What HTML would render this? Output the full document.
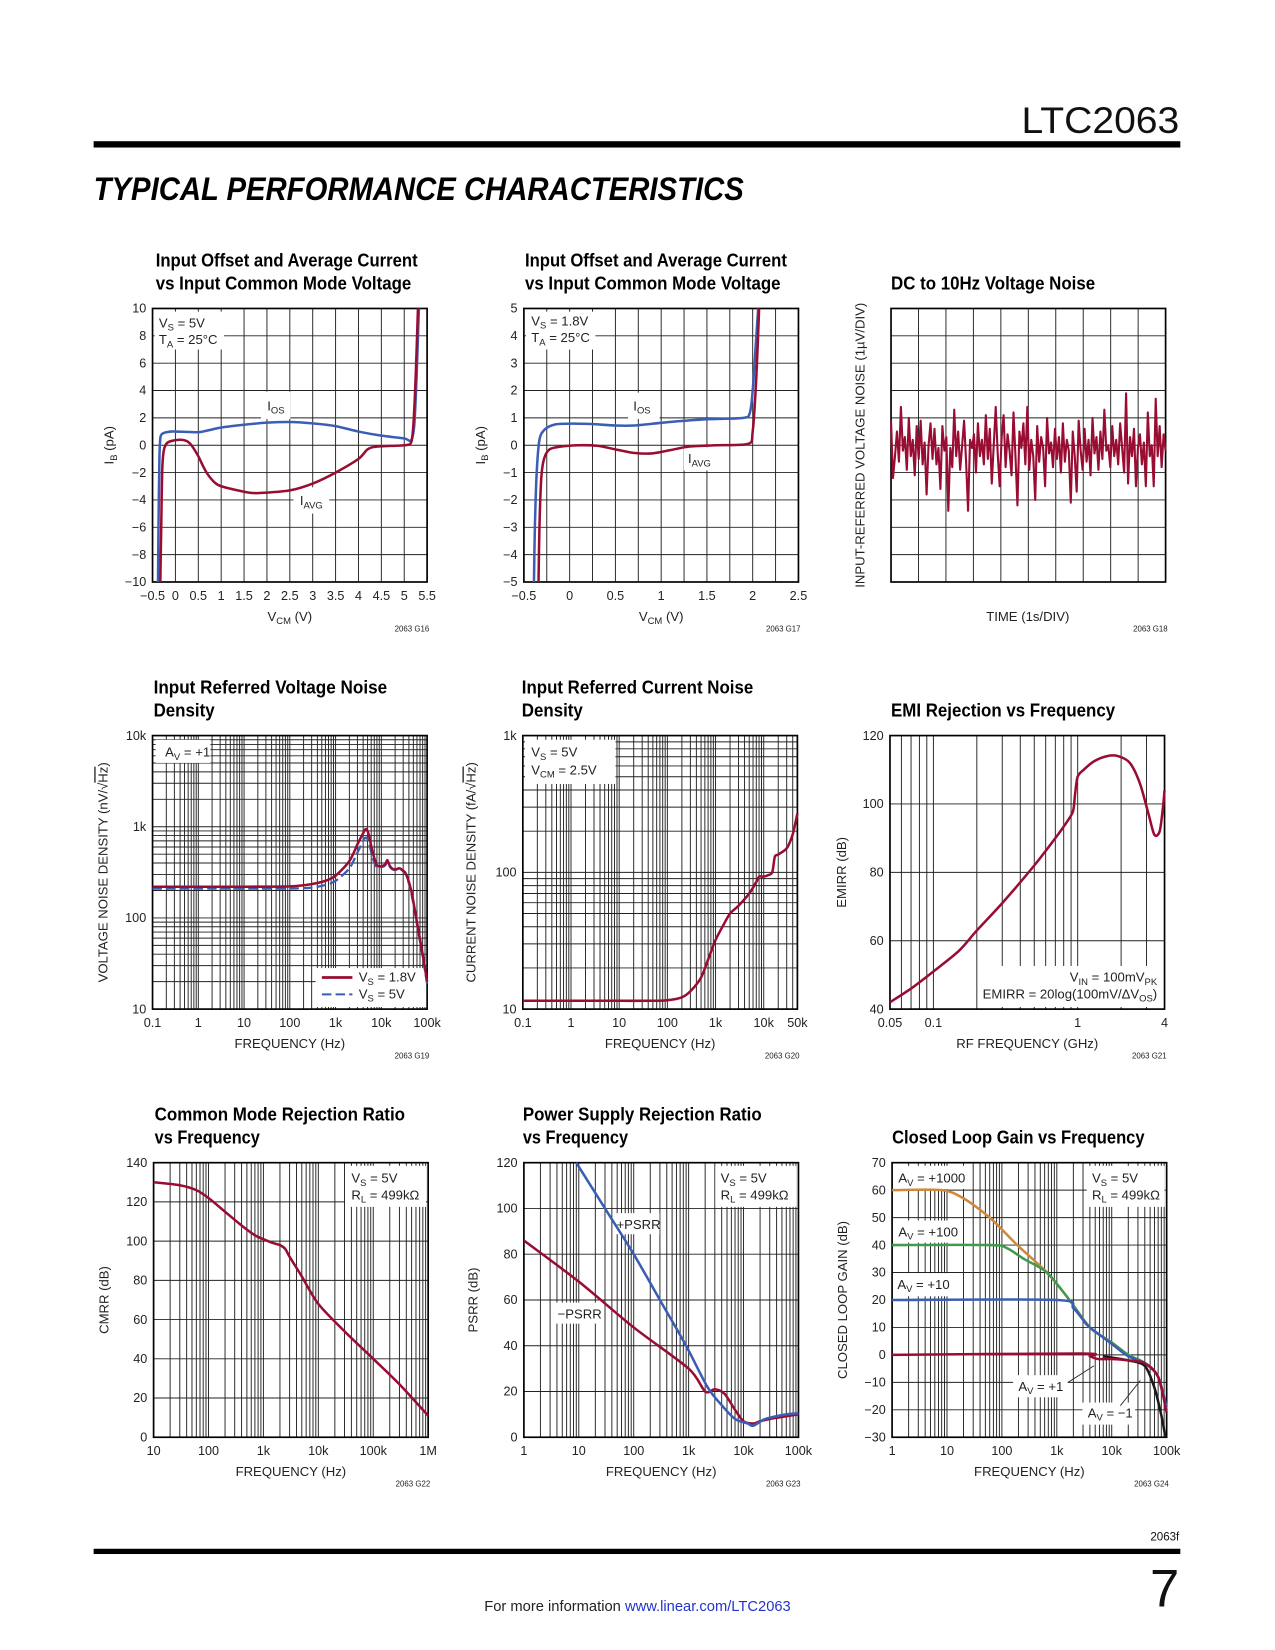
<!DOCTYPE html>
<html><head><meta charset="utf-8">
<style>
html,body{margin:0;padding:0;background:#fff;}
svg{display:block;font-family:"Liberation Sans",sans-serif;}
</style></head>
<body>
<svg id="page" xmlns="http://www.w3.org/2000/svg" width="1275" height="1650" viewBox="0 0 1212 1568">
<rect x="0" y="0" width="1212" height="1568" fill="#fff"/>
<text x="1121" y="126" text-anchor="end" font-size="35" fill="#111" textLength="150" lengthAdjust="spacingAndGlyphs">LTC2063</text>
<rect x="89" y="134" width="1033" height="6" fill="#000"/>
<text x="89" y="190" font-size="31" font-weight="bold" font-style="italic" fill="#000" textLength="618" lengthAdjust="spacingAndGlyphs">TYPICAL PERFORMANCE CHARACTERISTICS</text>
<rect x="89" y="1472" width="1033" height="5" fill="#000"/>
<text x="1121" y="1464" text-anchor="end" font-size="11" fill="#111">2063f</text>
<text x="1121" y="1527" text-anchor="end" font-size="50" fill="#111">7</text>
<text x="606" y="1531" text-anchor="middle" font-size="14" fill="#222">For more information <tspan fill="#2233cc">www.linear.com/LTC2063</tspan></text>
<g id="charts"></g>
</svg>
<script>
// ---------- DATA ----------
const c1_vcm_ios=[-0.38,-0.37,-0.35,-0.33,-0.3,-0.25,-0.2,-0.1,0,0.3,0.5,0.6,0.8,1,1.5,2,2.5,3,3.5,4,4.5,5,5.15,5.22,5.27,5.32];
const c1_ios=[-10,-6,-1,0.5,0.8,0.9,0.95,1.0,1.0,0.97,0.95,1.0,1.15,1.3,1.5,1.65,1.7,1.6,1.4,1.0,0.7,0.5,0.35,1.5,5,10];
const c1_vcm_avg=[-0.33,-0.31,-0.29,-0.26,-0.2,-0.1,0.1,0.25,0.35,0.5,0.6,0.7,0.85,1,1.5,1.8,2.5,3,3.5,4,4.2,4.4,5,5.15,5.2,5.25,5.3];
const c1_iavg=[-10,-6,-2,-0.5,0.1,0.3,0.4,0.3,0,-0.8,-1.5,-2.1,-2.7,-3.0,-3.4,-3.5,-3.3,-2.8,-2.0,-1.0,-0.3,-0.1,0,0.2,1.5,5,10];
const c2_vcm_ios=[-0.39,-0.38,-0.36,-0.33,-0.28,-0.2,-0.1,0.2,0.5,0.7,1.0,1.2,1.5,1.9,1.97,2.0,2.03,2.06];
const c2_ios=[-5,-3,-1,0.2,0.55,0.72,0.78,0.78,0.72,0.72,0.82,0.88,0.95,1.0,1.2,2.0,3.5,5];
const c2_vcm_avg=[-0.34,-0.33,-0.31,-0.28,-0.22,-0.1,0.1,0.3,0.5,0.7,0.9,1.1,1.3,1.6,1.95,2.0,2.04,2.07];
const c2_iavg=[-5,-3,-1.2,-0.5,-0.15,-0.05,0,-0.02,-0.15,-0.28,-0.3,-0.18,-0.05,0,0.05,0.5,2.5,5];
const c3_noise=[5.9,3.8,4.6,5.5,4.4,6.4,4.8,5.3,4.1,6.0,4.6,5.2,3.9,5.7,4.5,5.9,4.3,5.1,3.2,5.0,5.8,4.5,5.6,4.3,4.9,3.4,5.7,4.8,5.3,2.6,4.9,4.2,6.3,4.6,5.5,4.1,5.0,5.9,4.4,2.6,5.2,4.9,5.4,4.0,5.8,4.6,5.2,4.3,6.1,4.5,5.6,3.6,5.0,6.4,4.7,3.5,5.3,6.1,4.2,5.4,4.8,3.9,6.2,4.6,2.8,5.5,4.9,5.8,4.3,6.4,4.1,5.2,4.6,3.0,5.7,4.4,5.3,4.9,3.5,6.0,4.7,5.1,4.2,5.6,4.5,5.3,4.0,5.8,4.4,5.2,4.8,2.9,5.5,4.6,3.3,5.9,4.8,4.1,5.6,4.4,5.2,3.9,6.0,4.7,5.3,4.1,5.5,4.5,6.3,4.8,5.0,4.2,5.7,4.6,5.2,4.3,5.8,4.9,4.0,6.9,3.6,5.3,4.6,5.6,3.5,4.9,5.4,4.3,5.1,3.5,6.2,4.6,5.0,3.5,6.7,4.6,5.7,4.2,5.4,4.8];
const c4_freq=[0.1,1,10,100,300,600,1000,2000,3000,4000,4500,5000,5500,6500,8000,10000,12000,13500,15000,17000,20000,25000,30000,35000,45000,60000,80000,100000];
const c4_vs18=[220,220,220,222,235,255,290,420,640,850,940,900,760,520,380,370,385,430,380,350,340,350,330,300,200,90,40,20];
const c4_vs5=[210,210,210,210,215,230,255,350,520,700,760,730,640,450,360,360,375,410,370,345,335,345,325,295,190,85,38,19];
const c5_freq=[0.1,1,10,50,100,200,300,500,700,1000,1500,2000,3000,5000,7000,8000,10000,12000,15000,17000,20000,30000,40000,50000];
const c5_noise=[11.5,11.5,11.5,11.5,11.6,12.2,13.5,17,23,32,42,50,57,70,85,93,93,95,100,130,135,150,190,270];
const c6_freq=[0.05,0.07,0.1,0.15,0.2,0.3,0.5,0.7,0.85,0.93,0.96,1.0,1.1,1.3,1.6,1.9,2.3,2.7,3.1,3.4,3.7,3.9,4.0];
const c6_emirr=[42,46,51,57,63,71,82,90,95,98,103,108,110,112.5,114,114,112,106,97,91,92,99,104];
const c7_freq=[10,30,60,100,200,400,700,1000,1500,2000,2500,3000,5000,10000,30000,100000,300000,1000000];
const c7_cmrr=[130,128.5,126,122,115,108,103,101,99,98,96,92,82,68,54,40,27,11];
const c8_freq_neg=[1,10,100,1000,2000,3000,4500,7000,10000,15000,20000,30000,100000];
const c8_neg=[86,68,48,30,20,21,19,12,7,6,7,8,10];
const c8_freq_pos=[9,30,100,300,900,2200,4000,7000,12000,15000,25000,60000,100000];
const c8_pos=[120,100,80,60,40,22,14,8,6,5,8,10,10.5];
const c9_f1000=[1,8,20,60,190,660,1700,4000,10000,20000,40000,70000,100000];
const c9_g1000=[60,60,57,50,40,30,20,10,4.5,0,-3,-8,-20];
const c9_f100=[1,60,120,250,660,1700,4000,10000,20000,40000,70000,100000];
const c9_g100=[40,40,39,35,30,20,10,4.5,0,-3,-8,-20];
const c9_f10=[1,1000,2000,3200,4000,10000,20000,40000,70000,100000];
const c9_g10=[20,20,17,12,10,4,-0.5,-3,-8,-19];
const c9_f1=[1,2800,4000,5600,10000,20000,40000,70000,100000];
const c9_g1=[0,0.5,-0.5,-1.5,-1.5,-2,-3,-8,-21];
const c9_fm1=[7000,10000,20000,40000,60000,80000,95000];
const c9_gm1=[-0.5,-1,-2,-4,-12,-22,-30];

// tick labels
const t1_x=['−0.5','0','0.5','1','1.5','2','2.5','3','3.5','4','4.5','5','5.5'];
const t1_y=['10','8','6','4','2','0','−2','−4','−6','−8','−10'];
const t2_x=['−0.5','0','0.5','1','1.5','2','2.5'];
const t2_y=['5','4','3','2','1','0','−1','−2','−3','−4','−5'];
const tf_x4=['0.1','1','10','100','1k','10k','100k'];
const tf_y4=['10k','1k','100','10'];
const tf_x5=['0.1','1','10','100','1k','10k','50k'];
const tf_y5=['1k','100','10'];
const tf_x6=['0.05','0.1','1','4'];
const tf_y6=['120','100','80','60','40'];
const tf_x7=['10','100','1k','10k','100k','1M'];
const tf_y7=['140','120','100','80','60','40','20','0'];
const tf_x8=['1','10','100','1k','10k','100k'];
const tf_y8=['120','100','80','60','40','20','0'];
const tf_y9=['70','60','50','40','30','20','10','0','−10','−20','−30'];

// ---------- HELPERS ----------
const NS='http://www.w3.org/2000/svg';
const root=document.getElementById('charts');
const RED='#9a0d33',BLUE='#3b5eb4',ORANGE='#d0883c',GREEN='#3f9a4e',BLACK='#1a1a1a',GRID='#222';
function mk(tag,parent){const e=document.createElementNS(NS,tag);(parent||root).appendChild(e);return e;}
function lin(d0,d1,r0,r1){return v=>r0+(v-d0)/(d1-d0)*(r1-r0);}
function lg(d0,d1,r0,r1){const a=Math.log10(d0),b=Math.log10(d1);return v=>r0+(Math.log10(v)-a)/(b-a)*(r1-r0);}
function parseV(s){let m=1;if(s.endsWith('k')){m=1e3;s=s.slice(0,-1);}if(s.endsWith('M')){m=1e6;s=s.slice(0,-1);}return parseFloat(s.replace('−','-'))*m;}
function line(g,x1,y1,x2,y2,w,c,name){const l=mk('line',g);l.setAttribute('x1',x1);l.setAttribute('y1',y1);l.setAttribute('x2',x2);l.setAttribute('y2',y2);l.setAttribute('stroke',c||GRID);l.setAttribute('stroke-width',w||0.9);


return l;}
function txt(g,x,y,html,size,anchor,name,extra){const t=mk('text',g);t.setAttribute('x',x);t.setAttribute('y',y);t.setAttribute('font-size',size||12);t.setAttribute('fill','#222');if(anchor)t.setAttribute('text-anchor',anchor);if(extra)for(const k in extra)t.setAttribute(k,extra[k]);t.innerHTML=html;


return t;}
function box(g,x,y,w,h,name){const r=mk('rect',g);r.setAttribute('x',x);r.setAttribute('y',y);r.setAttribute('width',w);r.setAttribute('height',h);r.setAttribute('fill','#fff');


return r;}
function sub(a,b,c){return a+'<tspan dy="3" font-size="0.72em">'+b+'</tspan><tspan dy="-3">'+(c||'')+'</tspan>';}
function series(g,sx,sy,xs,ys,color,name,dash,w,sharp){
  const P=xs.map((x,i)=>[sx(x),sy(ys[i])]);
  let d='M'+P[0][0].toFixed(2)+','+P[0][1].toFixed(2);
  for(let i=0;i<P.length-1;i++){
    if(sharp){d+='L'+P[i+1][0].toFixed(2)+','+P[i+1][1].toFixed(2);continue;}
    const p0=P[i-1]||P[i],p1=P[i],p2=P[i+1],p3=P[i+2]||P[i+1],k=1/7;
    const c1=[p1[0]+(p2[0]-p0[0])*k,p1[1]+(p2[1]-p0[1])*k],c2=[p2[0]-(p3[0]-p1[0])*k,p2[1]-(p3[1]-p1[1])*k];
    d+='C'+c1[0].toFixed(2)+','+c1[1].toFixed(2)+' '+c2[0].toFixed(2)+','+c2[1].toFixed(2)+' '+p2[0].toFixed(2)+','+p2[1].toFixed(2);
  }
  const p=mk('path',g);p.setAttribute('d',d);p.setAttribute('fill','none');p.setAttribute('stroke',color);p.setAttribute('stroke-width',w||2.4);p.setAttribute('stroke-linejoin','round');if(dash)p.setAttribute('stroke-dasharray',dash);
  
  
  return p;}
function logGrid(g,d0,d1){const out=[];for(let e=Math.floor(Math.log10(d0))-1;e<=Math.ceil(Math.log10(d1));e++){for(let m=1;m<=9;m++){const v=m*Math.pow(10,e);if(v>=d0*0.999&&v<=d1*1.001)out.push(v);}}return out;}

function chart(o){
  const g=mk('g');
  
  
  const sx=o.xlog?lg(o.xd[0],o.xd[1],o.x0,o.x1):lin(o.xd[0],o.xd[1],o.x0,o.x1);
  const sy=o.ylog?lg(o.yd[0],o.yd[1],o.y1,o.y0):lin(o.yd[0],o.yd[1],o.y1,o.y0);
  const gx=o.xlog?logGrid(g,o.xd[0],o.xd[1]):o.xgrid, gy=o.ylog?logGrid(g,o.yd[0],o.yd[1]):o.ygrid;
  gx.forEach(v=>line(g,sx(v),o.y0,sx(v),o.y1,0.9,GRID,'x-grid-line'));
  gy.forEach(v=>line(g,o.x0,sy(v),o.x1,sy(v),0.9,GRID,'y-grid-line'));
  const fr=mk('rect',g);fr.setAttribute('x',o.x0);fr.setAttribute('y',o.y0);fr.setAttribute('width',o.x1-o.x0);fr.setAttribute('height',o.y1-o.y0);fr.setAttribute('fill','none');fr.setAttribute('stroke','#000');fr.setAttribute('stroke-width',1.6);
  
  
  if(o.xt)o.xt.forEach(s=>txt(g,sx(parseV(s)),o.y1+17,s,12,'middle','x-tick-label'));
  if(o.yt)o.yt.forEach(s=>txt(g,o.x0-6,sy(parseV(s))+4,s,12,'end','y-tick-label'));
  o.title.forEach((s,i)=>txt(g,o.tx,o.ty+i*22,s[0],17.5,null,'chart-title',{'font-weight':'bold','textLength':s[1],'lengthAdjust':'spacingAndGlyphs','fill':'#000'}));
  if(o.xlabel)txt(g,(o.x0+o.x1)/2,o.y1+37,o.xlabel,12.5,'middle','x-axis-title');
  const yl=txt(g,o.ylx,(o.y0+o.y1)/2,o.ylabel,12.5,'middle','y-axis-title');yl.setAttribute('transform','rotate(-90 '+o.ylx+' '+((o.y0+o.y1)/2)+')');
  txt(g,o.x1+2,o.y1+47,o.fig,7.5,'end','figure-number');
  return {g,sx,sy};
}

// ---------- CHART 1 ----------
let C=chart({name:'chart-g16',x0:145,x1:406,y0:293,y1:553,xd:[-0.5,5.5],yd:[-10,10],
 xgrid:[-0.5,0,0.5,1,1.5,2,2.5,3,3.5,4,4.5,5,5.5],ygrid:[-10,-8,-6,-4,-2,0,2,4,6,8,10],xt:t1_x,yt:t1_y,
 title:[['Input Offset and Average Current',249],['vs Input Common Mode Voltage',243]],tx:148,ty:253,
 xlabel:sub('V','CM',' (V)'),ylabel:sub('I','B',' (pA)'),ylx:108,fig:'2063 G16'});
box(C.g,147,296,66,36,'conditions-box');
txt(C.g,151,311,sub('V','S',' = 5V'),12.5,null,'condition-vs');
txt(C.g,151,327,sub('T','A',' = 25°C'),12.5,null,'condition-ta');
box(C.g,248,372,28,26,'ios-label-box');
txt(C.g,254,390,sub('I','OS'),12.5,null,'ios-label');
box(C.g,279,463,34,25,'iavg-label-box');
txt(C.g,285,480,sub('I','AVG'),12.5,null,'iavg-label');
series(C.g,C.sx,C.sy,c1_vcm_ios,c1_ios,BLUE,'ios-curve');
series(C.g,C.sx,C.sy,c1_vcm_avg,c1_iavg,RED,'iavg-curve');

// ---------- CHART 2 ----------
C=chart({name:'chart-g17',x0:498,x1:759,y0:293,y1:553,xd:[-0.5,2.5],yd:[-5,5],
 xgrid:[-0.5,-0.25,0,0.25,0.5,0.75,1,1.25,1.5,1.75,2,2.25,2.5],ygrid:[-5,-4,-3,-2,-1,0,1,2,3,4,5],xt:t2_x,yt:t2_y,
 title:[['Input Offset and Average Current',249],['vs Input Common Mode Voltage',243]],tx:499,ty:253,
 xlabel:sub('V','CM',' (V)'),ylabel:sub('I','B',' (pA)'),ylx:461,fig:'2063 G17'});
box(C.g,500,296,66,36,'conditions-box');
txt(C.g,505,309,sub('V','S',' = 1.8V'),12.5,null,'condition-vs');
txt(C.g,505,325,sub('T','A',' = 25°C'),12.5,null,'condition-ta');
box(C.g,597,373,30,25,'ios-label-box');
txt(C.g,602,390,sub('I','OS'),12.5,null,'ios-label');
box(C.g,650,425,34,22,'iavg-label-box');
txt(C.g,654,440,sub('I','AVG'),12.5,null,'iavg-label');
series(C.g,C.sx,C.sy,c2_vcm_ios,c2_ios,BLUE,'ios-curve');
series(C.g,C.sx,C.sy,c2_vcm_avg,c2_iavg,RED,'iavg-curve');

// ---------- CHART 3 ----------
C=chart({name:'chart-g18',x0:847,x1:1108,y0:293,y1:553,xd:[0,10],yd:[0,10],
 xgrid:[0,1,2,3,4,5,6,7,8,9,10],ygrid:[0,1,2,3,4,5,6,7,8,9,10],
 title:[['DC to 10Hz Voltage Noise',194]],tx:847,ty:275,
 xlabel:null,ylabel:'INPUT-REFERRED VOLTAGE NOISE (1µV/DIV)',ylx:822,fig:'2063 G18'});
txt(C.g,977,590,'TIME (1s/DIV)',12.5,'middle','x-axis-title');
const c3_t=c3_noise.map((v,i)=>i*10/(c3_noise.length-1));
series(C.g,C.sx,C.sy,c3_t,c3_noise,RED,'noise-trace',null,2,true);

// ---------- CHART 4 ----------
C=chart({name:'chart-g19',x0:145,x1:406,y0:699,y1:959,xlog:1,ylog:1,xd:[0.1,1e5],yd:[10,1e4],xt:tf_x4,yt:tf_y4,
 title:[['Input Referred Voltage Noise',222],['Density',58]],tx:146,ty:659,
 xlabel:'FREQUENCY (Hz)',ylabel:'VOLTAGE NOISE DENSITY (nV/√<tspan text-decoration="overline">Hz</tspan>)',ylx:102,fig:'2063 G19'});
box(C.g,148,703,52,22,'av-box');
txt(C.g,157,719,sub('A','V',' = +1'),12.5,null,'av-label');
box(C.g,300,920,105,37,'legend-box');
line(C.g,306,929,335,929,2.6,RED,'legend-swatch-1v8');
line(C.g,306,945,335,945,2,BLUE,'legend-swatch-5v').setAttribute('stroke-dasharray','9 4');
txt(C.g,341,933,sub('V','S',' = 1.8V'),12.5,null,'legend-entry-1v8');
txt(C.g,341,949,sub('V','S',' = 5V'),12.5,null,'legend-entry-5v');
series(C.g,C.sx,C.sy,c4_freq,c4_vs5,BLUE,'vs-5v-curve','9 4',2.2);
series(C.g,C.sx,C.sy,c4_freq,c4_vs18,RED,'vs-1v8-curve');

// ---------- CHART 5 ----------
C=chart({name:'chart-g20',x0:497,x1:758,y0:699,y1:959,xlog:1,ylog:1,xd:[0.1,5e4],yd:[10,1000],xt:tf_x5,yt:tf_y5,
 title:[['Input Referred Current Noise',220],['Density',58]],tx:496,ty:659,
 xlabel:'FREQUENCY (Hz)',ylabel:'CURRENT NOISE DENSITY (fA/√<tspan text-decoration="overline">Hz</tspan>)',ylx:452,fig:'2063 G20'});
box(C.g,499,703,86,42,'conditions-box');
txt(C.g,505,719,sub('V','S',' = 5V'),12.5,null,'condition-vs');
txt(C.g,505,736,sub('V','CM',' = 2.5V'),12.5,null,'condition-vcm');
series(C.g,C.sx,C.sy,c5_freq,c5_noise,RED,'current-noise-curve');

// ---------- CHART 6 ----------
C=chart({name:'chart-g21',x0:846,x1:1107,y0:699,y1:959,xlog:1,xd:[0.05,4],yd:[40,120],ygrid:[40,60,80,100,120],xt:tf_x6,yt:tf_y6,
 title:[['EMI Rejection vs Frequency',213]],tx:847,ty:681,
 xlabel:'RF FREQUENCY (GHz)',ylabel:'EMIRR (dB)',ylx:804,fig:'2063 G21'});
box(C.g,930,918,176,39,'conditions-box');
txt(C.g,1100,933,'V<tspan dy="3" font-size="0.72em">IN</tspan><tspan dy="-3"> = 100mV</tspan><tspan dy="3" font-size="0.72em">PK</tspan>',12.5,'end','condition-vin');
txt(C.g,1100,949,'EMIRR = 20log(100mV/ΔV<tspan dy="3" font-size="0.72em">OS</tspan><tspan dy="-3">)</tspan>',12.5,'end','condition-emirr');
series(C.g,C.sx,C.sy,c6_freq,c6_emirr,RED,'emirr-curve');

// ---------- CHART 7 ----------
C=chart({name:'chart-g22',x0:146,x1:407,y0:1105,y1:1366,xlog:1,xd:[10,1e6],yd:[0,140],ygrid:[0,20,40,60,80,100,120,140],xt:tf_x7,yt:tf_y7,
 title:[['Common Mode Rejection Ratio',238],['vs Frequency',100]],tx:147,ty:1065,
 xlabel:'FREQUENCY (Hz)',ylabel:'CMRR (dB)',ylx:103,fig:'2063 G22'});
box(C.g,328,1108,77,39,'conditions-box');
txt(C.g,334,1124,sub('V','S',' = 5V'),12.5,null,'condition-vs');
txt(C.g,334,1140,sub('R','L',' = 499kΩ'),12.5,null,'condition-rl');
series(C.g,C.sx,C.sy,c7_freq,c7_cmrr,RED,'cmrr-curve');

// ---------- CHART 8 ----------
C=chart({name:'chart-g23',x0:498,x1:759,y0:1105,y1:1366,xlog:1,xd:[1,1e5],yd:[0,120],ygrid:[0,20,40,60,80,100,120],xt:tf_x8,yt:tf_y8,
 title:[['Power Supply Rejection Ratio',227],['vs Frequency',100]],tx:497,ty:1065,
 xlabel:'FREQUENCY (Hz)',ylabel:'PSRR (dB)',ylx:454,fig:'2063 G23'});
box(C.g,680,1108,77,39,'conditions-box');
txt(C.g,685,1124,sub('V','S',' = 5V'),12.5,null,'condition-vs');
txt(C.g,685,1140,sub('R','L',' = 499kΩ'),12.5,null,'condition-rl');
box(C.g,583,1153,44,20,'psrr-plus-box');
txt(C.g,586,1168,'+PSRR',12.5,null,'psrr-plus-label');
box(C.g,527,1238,46,20,'psrr-minus-box');
txt(C.g,530,1253,'−PSRR',12.5,null,'psrr-minus-label');
series(C.g,C.sx,C.sy,c8_freq_neg,c8_neg,RED,'psrr-minus-curve');
series(C.g,C.sx,C.sy,c8_freq_pos,c8_pos,BLUE,'psrr-plus-curve');

// ---------- CHART 9 ----------
C=chart({name:'chart-g24',x0:848,x1:1109,y0:1105,y1:1366,xlog:1,xd:[1,1e5],yd:[-30,70],ygrid:[-30,-20,-10,0,10,20,30,40,50,60,70],xt:tf_x8,yt:tf_y9,
 title:[['Closed Loop Gain vs Frequency',240]],tx:848,ty:1087,
 xlabel:'FREQUENCY (Hz)',ylabel:'CLOSED LOOP GAIN (dB)',ylx:805,fig:'2063 G24'});
box(C.g,850,1108,70,22,'av1000-box');
txt(C.g,854,1124,sub('A','V',' = +1000'),12.5,null,'av1000-label');
box(C.g,850,1160,65,21,'av100-box');
txt(C.g,854,1175,sub('A','V',' = +100'),12.5,null,'av100-label');
box(C.g,850,1210,57,22,'av10-box');
txt(C.g,853,1225,sub('A','V',' = +10'),12.5,null,'av10-label');
box(C.g,1033,1108,74,39,'conditions-box');
txt(C.g,1038,1124,sub('V','S',' = 5V'),12.5,null,'condition-vs');
txt(C.g,1038,1140,sub('R','L',' = 499kΩ'),12.5,null,'condition-rl');
box(C.g,963,1307,52,21,'av1-box');
txt(C.g,968,1322,sub('A','V',' = +1'),12.5,null,'av1-label');
box(C.g,1029,1333,50,21,'avm1-box');
txt(C.g,1034,1347,sub('A','V',' = −1'),12.5,null,'avm1-label');
line(C.g,1015,1314,1040,1298,0.9,'#333','av1-pointer');
line(C.g,1065,1336,1084,1312,0.9,'#333','avm1-pointer');
series(C.g,C.sx,C.sy,c9_f1000,c9_g1000,ORANGE,'gain-1000-curve');
series(C.g,C.sx,C.sy,c9_f100,c9_g100,GREEN,'gain-100-curve');
series(C.g,C.sx,C.sy,c9_f10,c9_g10,BLUE,'gain-10-curve');
series(C.g,C.sx,C.sy,c9_fm1,c9_gm1,BLACK,'gain-minus1-curve');
series(C.g,C.sx,C.sy,c9_f1,c9_g1,RED,'gain-1-curve');
</script>
</body></html>
